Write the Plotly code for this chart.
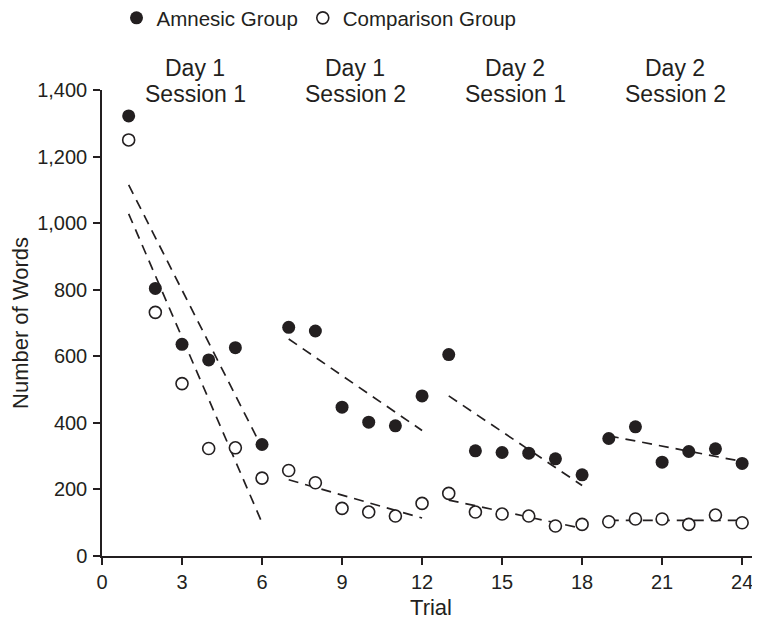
import plotly.graph_objects as go

trials = list(range(1, 25))
amnesic = [1322, 804, 636, 589, 626, 335,
           687, 676, 447, 402, 391, 481,
           605, 316, 311, 309, 292, 244,
           353, 388, 282, 314, 322, 278]
comparison = [1250, 732, 518, 323, 325, 234,
              257, 220, 143, 132, 120, 158,
              188, 132, 126, 120, 90, 95,
              103, 111, 111, 95, 123, 100]

session_day = ["Day 1", "Day 1", "Day 2", "Day 2"]
session_name = ["Session 1", "Session 2", "Session 1", "Session 2"]
session_first = [1, 7, 13, 19]
session_last = [6, 12, 18, 24]

# trend line end values, per session
amn_trend_start = [1115, 652, 481, 361]
amn_trend_end = [325, 377, 212, 284]
cmp_trend_start = [1028, 229, 168, 107]
cmp_trend_end = [100, 114, 83, 107]

x_ticks = [0, 3, 6, 9, 12, 15, 18, 21, 24]
y_ticks = [0, 200, 400, 600, 800, 1000, 1200, 1400]

INK = "#231f20"
FONT = "Liberation Sans, Arial, sans-serif"

# page body has an 8px margin, so the figure is made 8px smaller
W, H = 752, 617
top, bottom = 82, 548      # pixel rows of y=1400 and y=0 in figure coords
left = 94

fig = go.Figure()

for i in range(4):
    for s, e in ((amn_trend_start, amn_trend_end), (cmp_trend_start, cmp_trend_end)):
        fig.add_trace(go.Scatter(
            x=[session_first[i], session_last[i]], y=[s[i], e[i]],
            mode="lines", line=dict(color=INK, width=1.7, dash="10px,7px"),
            showlegend=False, hoverinfo="skip"))

fig.add_trace(go.Scatter(
    x=trials, y=amnesic, mode="markers", name="Amnesic Group",
    marker=dict(symbol="circle", size=13, color=INK, line=dict(width=0))))
fig.add_trace(go.Scatter(
    x=trials, y=comparison, mode="markers", name="Comparison Group",
    marker=dict(symbol="circle", size=12, color="white",
                line=dict(width=1.6, color=INK))))

def prow(py):
    return (bottom - py) / (bottom - top)

for i in range(4):
    cx = (session_first[i] + session_last[i]) / 2
    for txt, py in ((session_day[i], 60), (session_name[i], 86)):
        fig.add_annotation(x=cx, y=prow(py), xref="x", yref="paper",
                           yanchor="middle", text=txt, showarrow=False,
                           font=dict(size=23, color=INK, family=FONT))

fig.update_layout(
    width=W, height=H,
    margin=dict(l=left, r=0, t=top, b=H - bottom, pad=0, autoexpand=False),
    paper_bgcolor="white", plot_bgcolor="white",
    font=dict(family=FONT, color=INK, size=20),
    legend=dict(orientation="h", x=14.5 / (W - left), y=prow(10),
                xanchor="left", yanchor="middle",
                font=dict(size=20.5, color=INK, family=FONT),
                itemsizing="trace", bgcolor="rgba(0,0,0,0)"),
    xaxis=dict(range=[0, 24.67], tickvals=x_ticks, ticks="outside", ticklen=7,
               tickwidth=1.5, tickcolor=INK, showline=True, linecolor=INK,
               linewidth=1.5, showgrid=False, zeroline=False,
               tickfont=dict(size=20, color=INK),
               title=dict(text="Trial", font=dict(size=22, color=INK), standoff=8)),
    yaxis=dict(range=[0, 1400], tickvals=y_ticks, ticks="outside", ticklen=7,
               tickwidth=1.5, tickcolor=INK, showline=True, linecolor=INK,
               linewidth=1.5, showgrid=False, zeroline=False,
               tickformat=",d", tickfont=dict(size=20, color=INK),
               ticklabelstandoff=2,
               title=dict(text="Number of Words", font=dict(size=22, color=INK),
                          standoff=11)),
)

fig.write_html("out.html")
